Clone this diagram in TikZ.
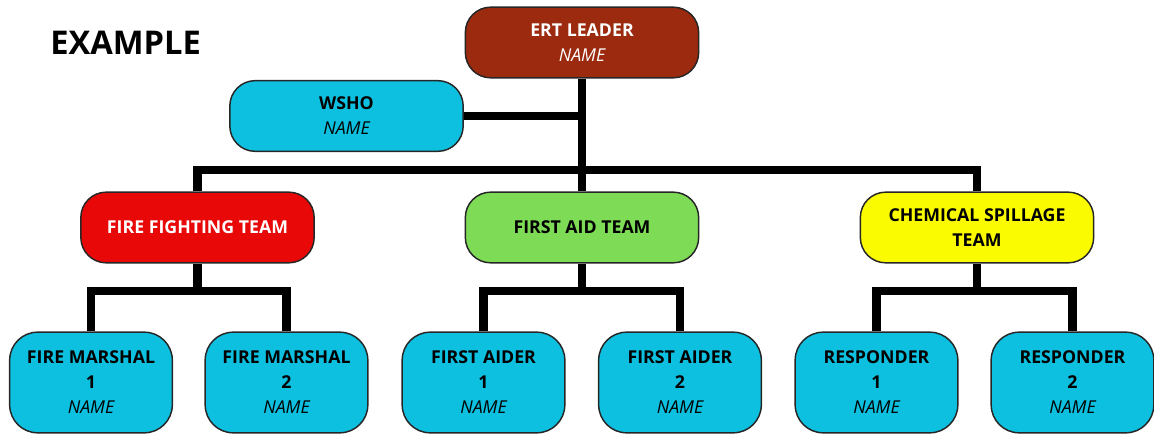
\documentclass[tikz,border=0pt]{standalone}
\usepackage{fontspec}
\setmainfont{Open Sans}
\definecolor{ertbrown}{HTML}{9C2A0E}
\definecolor{crewcyan}{HTML}{0DC0E0}
\definecolor{firered}{HTML}{E80808}
\definecolor{aidgreen}{HTML}{7DDB55}
\definecolor{chemyellow}{HTML}{FAFA00}
\newcommand{\nametag}{{\mdseries\itshape NAME}}

\begin{document}
\begin{tikzpicture}[x=0.75pt,y=-0.75pt,
	box/.style={draw=black!85,line width=1.1pt,rounded corners=19pt,minimum width=175pt,minimum height=53pt,inner sep=0pt,align=center,font=\fontsize{13.3}{18.7}\selectfont\bfseries},
	member/.style={box,fill=crewcyan,minimum width=122pt,minimum height=75.5pt,rounded corners=21pt},
	conn/.style={line width=6.2pt}]
			%%%%% START %%%%%
			\useasboundingbox (0,0) rectangle (1154,434);
			
			\node[anchor=base west,inner sep=0pt,font=\fontsize{24.5}{29}\selectfont\bfseries] (title) at (50,55) {EXAMPLE};
			
			% top
			\node[box,fill=ertbrown,text=white] (ert) at (582,42.5) {ERT LEADER\\\nametag};
			\node[box,fill=crewcyan] (wsho) at (346.5,116) {WSHO\\\nametag};
			
			% teams
			\node[box,fill=firered,text=white] (fire) at (197.5,227.5) {FIRE FIGHTING TEAM};
			\node[box,fill=aidgreen] (aid) at (582,227.5) {FIRST AID TEAM};
			\node[box,fill=chemyellow] (chem) at (977,227.5) {CHEMICAL SPILLAGE\\TEAM};
			
			% members
			\node[member] (fm1) at (91,382.5) {FIRE MARSHAL\\1\\\nametag};
			\node[member] (fm2) at (286.5,382.5) {FIRE MARSHAL\\2\\\nametag};
			\node[member] (fa1) at (483.5,382.5) {FIRST AIDER\\1\\\nametag};
			\node[member] (fa2) at (680,382.5) {FIRST AIDER\\2\\\nametag};
			\node[member] (rs1) at (876.5,382.5) {RESPONDER\\1\\\nametag};
			\node[member] (rs2) at (1072.5,382.5) {RESPONDER\\2\\\nametag};
			
			\coordinate (bus) at (582,170);
			\coordinate (firebus) at (197.5,291);
			\coordinate (aidbus) at (582,291);
			\coordinate (chembus) at (977,291);
			
			\draw[conn] (ert.south) -- (aid.north);
			\draw[conn] (wsho.east) -- (wsho.east -| ert.south);
			\draw[conn] (fire.north) |- (bus) -| (chem.north);
			
			\draw[conn] (fire.south) -- (firebus);
			\draw[conn] (fm1.north) |- (firebus) -| (fm2.north);
			\draw[conn] (aid.south) -- (aidbus);
			\draw[conn] (fa1.north) |- (aidbus) -| (fa2.north);
			\draw[conn] (chem.south) -- (chembus);
			\draw[conn] (rs1.north) |- (chembus) -| (rs2.north);
			
			%%%%% END %%%%%
\end{tikzpicture}
\end{document}
